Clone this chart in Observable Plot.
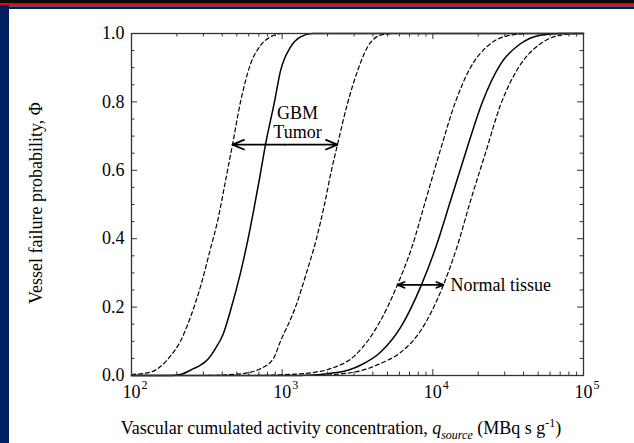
<!DOCTYPE html>
<html>
<head>
<meta charset="utf-8">
<script src="https://cdn.jsdelivr.net/npm/d3@7"></script>
<script src="https://cdn.jsdelivr.net/npm/@observablehq/plot@0.6"></script>
<style>
  html, body { margin: 0; padding: 0; background: #fff; }
  #chart { width: 634px; height: 443px; }
</style>
</head>
<body>
<div id="chart"></div>
<script>
// Vessel failure probability versus vascular cumulated activity concentration.
// Each band: lower bound (dashed), central estimate (solid), upper bound (dashed).

// GBM tumor
const gbmLowerQ   = [100, 134, 168, 182, 211, 246, 287, 334, 372, 421, 468, 529, 616, 718, 836, 1005, 100000];
const gbmLowerPhi = [0.003, 0.01, 0.04, 0.058, 0.10, 0.17, 0.26, 0.37, 0.45, 0.57, 0.675, 0.80, 0.91, 0.965, 0.99, 1.0, 1.0];

const gbmCentralQ   = [100, 182, 211, 258, 287, 325, 362, 405, 454, 529, 607, 645, 707, 775, 889, 974, 1135, 1323, 1589, 100000];
const gbmCentralPhi = [0, 0, 0.003, 0.02, 0.03, 0.05, 0.08, 0.12, 0.19, 0.30, 0.42, 0.48, 0.575, 0.675, 0.80, 0.89, 0.96, 0.99, 1.0, 1.0];

const gbmUpperQ   = [100, 287, 529, 718, 876, 974, 1226, 1449, 1689, 1909, 2124, 2328, 2713, 3161, 3681, 4490, 5394, 100000];
const gbmUpperPhi = [0, 0, 0.005, 0.02, 0.05, 0.10, 0.20, 0.30, 0.40, 0.50, 0.60, 0.675, 0.795, 0.89, 0.96, 0.995, 1.0, 1.0];

// Normal tissue
const normalLowerQ   = [100, 616, 1323, 2091, 3065, 4490, 5822, 7321, 8932, 11230, 14130, 17760, 24120, 32730, 44420, 100000];
const normalLowerPhi = [0, 0, 0.005, 0.02, 0.06, 0.16, 0.265, 0.38, 0.51, 0.66, 0.80, 0.90, 0.97, 0.995, 1.0, 1.0];

const normalCentralQ   = [100, 1323, 2437, 3308, 4490, 6096, 8402, 10560, 13090, 16460, 21340, 28090, 38140, 51760, 70260, 100000];
const normalCentralPhi = [0, 0, 0.01, 0.03, 0.068, 0.14, 0.265, 0.38, 0.51, 0.65, 0.80, 0.91, 0.97, 0.995, 1.0, 1.0];

const normalUpperQ   = [100, 1541, 2839, 4490, 6096, 8275, 11760, 14570, 17760, 22340, 28090, 36990, 51760, 70260, 92520, 100000];
const normalUpperPhi = [0, 0, 0.008, 0.035, 0.067, 0.13, 0.265, 0.38, 0.51, 0.65, 0.79, 0.90, 0.97, 0.995, 1.0, 1.0];

// Range arrows between the dashed bounds
const arrowPhi   = [0.675, 0.265];
const arrowFromQ = [468, 5822];
const arrowToQ   = [2328, 11760];

// Annotations
const labelText = ["GBM\nTumor", "Normal tissue"];
const labelQ    = [1264, 13090];
const labelPhi  = [0.789, 0.265];

// Axis ticks
const xDecades = [100, 1000, 10000, 100000];
const yMajor = [0, 0.2, 0.4, 0.6, 0.8, 1.0];

// ---- layout
const W = 634, H = 443;
const mL = 131, mR = 51, mT = 33, mB = 68;
const pxPerDecade = (W - mL - mR) / 3;
const pxPerUnit = H - mT - mB;
const font = "Liberation Serif, Times New Roman, serif";

// ---- derived tables
const curves = [
  {name: "gbm-lower", dashed: true, q: gbmLowerQ, phi: gbmLowerPhi},
  {name: "gbm-central", dashed: false, q: gbmCentralQ, phi: gbmCentralPhi},
  {name: "gbm-upper", dashed: true, q: gbmUpperQ, phi: gbmUpperPhi},
  {name: "normal-lower", dashed: true, q: normalLowerQ, phi: normalLowerPhi},
  {name: "normal-central", dashed: false, q: normalCentralQ, phi: normalCentralPhi},
  {name: "normal-upper", dashed: true, q: normalUpperQ, phi: normalUpperPhi}
];
const rows = curves.flatMap(c => c.q.map((q, i) => ({curve: c.name, dashed: c.dashed, q, phi: c.phi[i]})));

const arrows = arrowPhi.flatMap((y, i) => {
  const mid = Math.sqrt(arrowFromQ[i] * arrowToQ[i]);
  return [{y, mid, end: arrowFromQ[i]}, {y, mid, end: arrowToQ[i]}];
});

const labels = labelText.map((text, i) => ({text, q: labelQ[i], phi: labelPhi[i]}));

const xMinor = xDecades.slice(0, 3).flatMap(d => d3.range(2, 10).map(k => k * d));
const yMinor = d3.range(1, 20).map(k => k * 0.05).filter(v => Math.abs(v / 0.2 - Math.round(v / 0.2)) > 1e-6);

const majorLen = 6, minorLen = 3.5;
const xTickUp = len => len / pxPerUnit;
const xFac = len => Math.pow(10, len / pxPerDecade);
const tickStroke = "#333";

function xTicks(values, len) {
  return [
    Plot.ruleX(values, {x: d => d, y1: 0, y2: xTickUp(len), stroke: tickStroke, strokeWidth: 1}),
    Plot.ruleX(values, {x: d => d, y1: 1, y2: 1 - xTickUp(len), stroke: tickStroke, strokeWidth: 1})
  ];
}
function yTicks(values, len) {
  return [
    Plot.ruleY(values, {y: d => d, x1: 100, x2: 100 * xFac(len), stroke: tickStroke, strokeWidth: 1}),
    Plot.ruleY(values, {y: d => d, x1: 100000, x2: 100000 / xFac(len), stroke: tickStroke, strokeWidth: 1})
  ];
}

const plot = Plot.plot({
  width: W,
  height: H,
  marginLeft: mL,
  marginRight: mR,
  marginTop: mT,
  marginBottom: mB,
  style: {background: "#fff", fontFamily: font, overflow: "visible"},
  x: {type: "log", domain: [100, 100000], axis: null},
  y: {domain: [0, 1], axis: null},
  marks: [
    Plot.line(rows.filter(d => d.dashed), {
      x: "q", y: "phi", z: "curve", curve: "monotone-x",
      stroke: "#000", strokeWidth: 1.2, strokeDasharray: "4,3"
    }),
    Plot.line(rows.filter(d => !d.dashed), {
      x: "q", y: "phi", z: "curve", curve: "monotone-x",
      stroke: "#000", strokeWidth: 1.5
    }),
    Plot.arrow(arrows, {
      x1: "mid", y1: "y", x2: "end", y2: "y",
      stroke: "#000", strokeWidth: 1.7, headLength: 11, headAngle: 45
    }),
    Plot.text(labels.slice(0, 1), {
      x: "q", y: "phi", text: "text", textAnchor: "middle", lineAnchor: "top",
      lineHeight: 1.06, fontSize: 18, fill: "#000"
    }),
    Plot.text(labels.slice(1), {
      x: "q", y: "phi", text: "text", textAnchor: "start", lineAnchor: "middle",
      fontSize: 18, fill: "#000"
    }),
    ...xTicks(xDecades, majorLen),
    ...xTicks(xMinor, minorLen),
    ...yTicks(yMajor, majorLen),
    ...yTicks(yMinor, minorLen),
    Plot.frame({stroke: "#333", strokeWidth: 1.3}),
    // tick labels
    Plot.text(yMajor, {
      x: 100, y: d => d, text: d => d.toFixed(1), textAnchor: "end", dx: -7,
      fontSize: 18, fill: "#000"
    }),
    Plot.text(xDecades, {
      x: d => d, y: 0, text: () => "10", textAnchor: "middle", dy: 17,
      fontSize: 18, fill: "#000"
    }),
    Plot.text(xDecades, {
      x: d => d, y: 0, text: d => String(Math.round(Math.log10(d))), textAnchor: "start",
      dx: 10, dy: 10, fontSize: 12, fill: "#000"
    })
  ]
});

const svg = d3.select(plot);

// x-axis title with italic symbol, subscript and superscript
const xt = svg.append("text")
  .attr("x", 341).attr("y", 434)
  .attr("text-anchor", "middle")
  .attr("font-family", font).attr("font-size", 18).attr("fill", "#000");
xt.append("tspan").text("Vascular cumulated activity concentration, ");
xt.append("tspan").attr("font-style", "italic").text("q");
xt.append("tspan").attr("font-style", "italic").attr("font-size", 12).attr("dy", 5).text("source");
xt.append("tspan").attr("dy", -5).text(" (MBq s g");
xt.append("tspan").attr("font-size", 12).attr("dy", -7).text("-1");
xt.append("tspan").attr("dy", 7).text(")");

// y-axis title
svg.append("text")
  .attr("transform", "translate(42,203) rotate(-90)")
  .attr("text-anchor", "middle")
  .attr("font-family", font).attr("font-size", 18).attr("fill", "#000")
  .text("Vessel failure probability, Φ");

// slide border: navy strip on the left, striped band along the top
svg.append("rect").attr("x", 0).attr("y", 0).attr("width", 9).attr("height", H).attr("fill", "#00205f");
svg.append("rect").attr("x", 0).attr("y", 0).attr("width", W).attr("height", 3).attr("fill", "#0a0a0a");
svg.append("rect").attr("x", 0).attr("y", 3).attr("width", W).attr("height", 2.5).attr("fill", "#e8000b");
svg.append("rect").attr("x", 0).attr("y", 5.5).attr("width", W).attr("height", 1).attr("fill", "#0a0a0a");
svg.append("rect").attr("x", 0).attr("y", 6.5).attr("width", W).attr("height", 2.5).attr("fill", "#00205f");

document.getElementById("chart").appendChild(plot);
</script>
</body>
</html>
